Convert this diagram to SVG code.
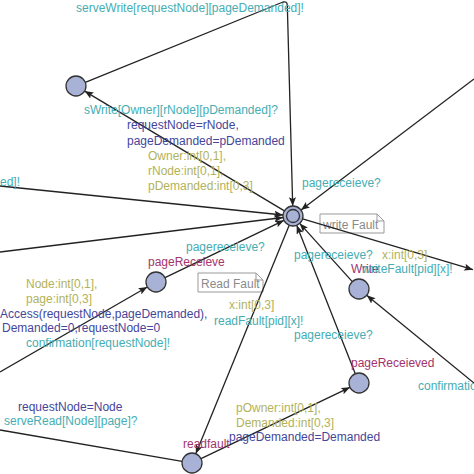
<svg xmlns="http://www.w3.org/2000/svg" width="474" height="474" viewBox="0 0 474 474">
<defs>
<marker id="ah" viewBox="0 0 10 8" refX="10" refY="4" markerWidth="9" markerHeight="7" markerUnits="userSpaceOnUse" orient="auto">
<path d="M0,0 L10,4 L0,8 L2,4 z" fill="#222"/>
</marker>
<style>
.e{fill:none;stroke:#222;stroke-width:1.3}
.a{marker-end:url(#ah)}
.n{fill:#a8b2d6;stroke:#333;stroke-width:1.3}
text{font-family:"Liberation Sans",Arial,sans-serif;font-size:12px}
.t{fill:#45adb3}
.b{fill:#45469a}
.o{fill:#b2b25a}
.m{fill:#a3336b}
.g{fill:#8a8a8a}
.c{fill:#fff;stroke:#999;stroke-width:1}
</style>
</defs>
<rect width="474" height="474" fill="#fff"/>
<g id="comments">
<path class="c" d="M320,214 H377 L384,221 V233 H320 Z M377,214 V221 H384"/>
<text class="g" x="323" y="229">write Fault</text>
<path class="c" d="M198,273 H256 L263,280 V292 H198 Z M256,273 V280 H263"/>
<text class="g" x="201" y="288">Read Fault</text>
</g>
<g id="connectors">
<path class="e a" d="M85.3,82.3 L283,2 Q287,1 287.3,5 L292.7,206"/>
<path class="e a" d="M284.4,210.9 L84.6,91.1"/>
<path class="e a" d="M474,79 L301,210"/>
<path class="e a" d="M0,186 L283,215"/>
<path class="e a" d="M0,252 L283.1,217.5"/>
<path class="e a" d="M165,277.7 L284,220.3"/>
<path class="e a" d="M0,372 L147.3,287"/>
<path class="e a" d="M289.2,225.3 L195.8,453.7"/>
<path class="e" d="M182.1,461.3 L0,430"/>
<path class="e a" d="M201,458.7 L350,387.3"/>
<path class="e a" d="M355.3,373.7 L296.7,225.3"/>
<path class="e a" d="M352.3,281.6 L299.7,223.4"/>
<path class="e a" d="M474,383 L366.7,295.3"/>
<path class="e a" d="M302.6,218.9 L473,269.7"/>
</g>
<g id="labels">
<text class="t" x="76" y="12">serveWrite[requestNode][pageDemanded]!</text>
<text class="t" x="84" y="114">sWrite[Owner][rNode][pDemanded]?</text>
<text class="b" x="127" y="129">requestNode=rNode,</text>
<text class="b" x="127" y="145">pageDemanded=pDemanded</text>
<text class="o" x="148" y="160">Owner:int[0,1],</text>
<text class="o" x="148" y="175">rNode:int[0,1],</text>
<text class="o" x="148" y="190">pDemanded:int[0,3]</text>
<text class="t" x="0" y="186">ed]!</text>
<text class="t" x="302" y="187">pagereceieve?</text>
<text class="t" x="186" y="251">pagereceieve?</text>
<text class="m" x="148" y="266">pageReceieve</text>
<text class="o" x="26" y="288">Node:int[0,1],</text>
<text class="o" x="26" y="303">page:int[0,3]</text>
<text class="b" x="0" y="318">Access(requestNode,pageDemanded),</text>
<text class="b" x="2" y="332">Demanded=0,requestNode=0</text>
<text class="t" x="26" y="347">confirmation[requestNode]!</text>
<text class="t" x="294" y="259">pagereceieve?</text>
<text class="o" x="382" y="259">x:int[0,3]</text>
<text class="m" x="351" y="273">Write</text>
<text class="t" x="362" y="273">writeFault[pid][x]!</text>
<text class="o" x="229" y="309">x:int[0,3]</text>
<text class="t" x="214" y="325">readFault[pid][x]!</text>
<text class="t" x="294" y="339">pagereceieve?</text>
<text class="m" x="351" y="367">pageReceieved</text>
<text class="t" x="418" y="390">confirmatio</text>
<text class="b" x="18" y="411">requestNode=Node</text>
<text class="t" x="4" y="425">serveRead[Node][page]?</text>
<text class="o" x="236" y="412">pOwner:int[0,1],</text>
<text class="o" x="236" y="427">Demanded:int[0,3]</text>
<text class="b" x="229" y="441">pageDemanded=Demanded</text>
<text class="m" x="183" y="448">readfault</text>
</g>
<g id="n_center">
<circle class="n" cx="293" cy="216" r="10"/>
<circle class="n" cx="293" cy="216" r="6.5"/>
</g>
<g id="n_A"><circle class="n" cx="76" cy="86" r="10"/></g>
<g id="n_pageReceieve"><circle class="n" cx="156" cy="282" r="10"/></g>
<g id="n_Write"><circle class="n" cx="359" cy="289" r="10"/></g>
<g id="n_pageReceieved"><circle class="n" cx="359" cy="383" r="10"/></g>
<g id="n_readfault"><circle class="n" cx="192" cy="463" r="10"/></g>
</svg>
